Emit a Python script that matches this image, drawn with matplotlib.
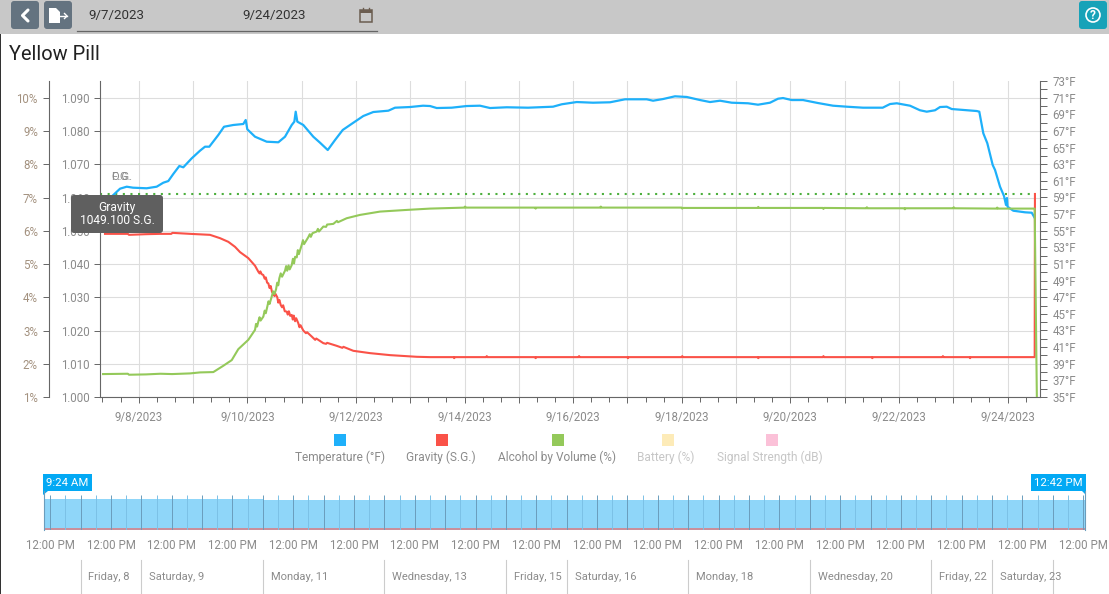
"""plot.py

Fermentation log of the Yellow Pill batch with range navigator
"""
import matplotlib
matplotlib.use('Agg')
from matplotlib import pylab as plt
from matplotlib.patches import Rectangle, FancyBboxPatch, Polygon, Circle

plt.rcParams['font.family'] = ['Roboto', 'DejaVu Sans']

colours = {'temp': '#1eb0fa',
           'gravity': '#fa5248',
           'abv': '#94c95a',
           'battery': '#fdebb8',
           'signal': '#fbc1d8',
           'og': '#4caf3d'}
GREY = '#8b8b8b'
AXIS = '#666666'


#
# Data (x in days of September 2023)
#
temp_day = [7.532, 7.656, 7.779, 7.895, 8.147, 8.331, 8.453, 8.545, 8.637, 8.748, 8.821,
            8.976, 9.129, 9.221, 9.300, 9.405, 9.466, 9.571, 9.742, 9.926, 9.970, 10.000,
            10.142, 10.357, 10.571, 10.694, 10.818, 10.866, 10.891, 10.921, 11.031, 11.215,
            11.339, 11.481, 11.615, 11.757, 11.952, 12.136, 12.320, 12.597, 12.720, 12.996,
            13.236, 13.365, 13.488, 13.764, 14.040, 14.285, 14.470, 14.777, 15.170, 15.630,
            15.790, 16.066, 16.366, 16.680, 16.956, 17.355, 17.472, 17.655, 17.876, 18.092,
            18.337, 18.521, 18.705, 18.921, 19.221, 19.405, 19.626, 19.774, 19.866, 20.026,
            20.234, 20.510, 20.786, 21.039, 21.339, 21.701, 21.836, 21.960, 22.204, 22.388,
            22.512, 22.665, 22.757, 22.880, 22.972, 23.433, 23.480, 23.554, 23.628, 23.727,
            23.770, 23.862, 23.935, 23.972, 23.990, 24.000, 24.107, 24.323, 24.446, 24.494]
temp_f = [59.29, 60.05, 60.29, 60.17, 60.10, 60.29, 60.77, 60.97, 61.82, 62.78, 62.62,
          63.70, 64.62, 65.10, 65.10, 65.99, 66.51, 67.50, 67.71, 67.83, 68.31, 67.19,
          66.30, 65.70, 65.63, 66.30, 67.71, 68.11, 69.31, 68.11, 67.71, 66.30,
          65.58, 64.70, 65.90, 67.11, 67.98, 68.79, 69.27, 69.43, 69.79, 69.87,
          70.03, 69.99, 69.75, 69.79, 69.99, 70.03, 69.75, 69.84, 69.79, 69.91,
          70.20, 70.47, 70.39, 70.44, 70.80, 70.80, 70.63, 70.83, 71.16, 71.08,
          70.71, 70.47, 70.63, 70.39, 70.32, 70.15, 70.39, 70.87, 70.95, 70.71,
          70.71, 70.35, 70.03, 69.91, 69.79, 69.79, 70.23, 70.32, 70.03, 69.48,
          69.31, 69.48, 69.87, 69.91, 69.63, 69.39, 69.31, 66.71, 65.51, 62.90,
          62.30, 60.29, 59.17, 58.09, 58.93, 57.88, 57.40, 57.21, 57.16, 56.61]

gravity_day = [7.379, 7.80, 7.82, 8.134, 8.40, 8.60, 8.62, 8.945, 9.313, 9.497, 9.650, 9.773, 9.866,
               10.018, 10.142, 10.203, 10.225, 10.240, 10.262, 10.295, 10.320, 10.340, 10.365,
               10.387, 10.410, 10.430, 10.455, 10.479, 10.500, 10.520, 10.552, 10.570, 10.590,
               10.615, 10.640, 10.660, 10.690, 10.726, 10.745, 10.765, 10.790, 10.818, 10.838,
               10.855, 10.880, 10.900, 10.939, 10.960, 10.980, 11.031, 11.080, 11.100, 11.186,
               11.250, 11.270, 11.400, 11.450, 11.470, 11.646, 11.750, 11.770, 11.952, 12.260,
               12.628, 13.120, 13.365, 13.800, 13.810, 13.820, 14.400, 14.410, 14.420, 15.300,
               15.310, 15.320, 16.100, 16.110, 16.120, 17.000, 17.010, 17.020, 18.000, 18.010,
               18.020, 19.400, 19.410, 19.420, 20.600, 20.610, 20.620, 21.500, 21.510, 21.520,
               22.800, 22.810, 22.820, 23.300, 23.310, 23.320, 24.470, 24.500, 24.505]
gravity_sg = [1.0491, 1.0491, 1.0488, 1.0490, 1.0491, 1.0491, 1.0494, 1.0491, 1.0488, 1.0478, 1.0467, 1.0452, 1.0436,
              1.0418, 1.0395, 1.0377, 1.0372, 1.0378, 1.0370, 1.0367, 1.0356, 1.0360, 1.0344,
              1.0342, 1.0328, 1.0334, 1.0316, 1.0312, 1.0304, 1.0310, 1.0300, 1.0284, 1.0292,
              1.0277, 1.0270, 1.0276, 1.0258, 1.0257, 1.0248, 1.0258, 1.0244, 1.0247, 1.0233,
              1.0245, 1.0228, 1.0237, 1.0222, 1.0210, 1.0216, 1.0200, 1.0192, 1.0195, 1.0182,
              1.0172, 1.0176, 1.0162, 1.0160, 1.0163, 1.0154, 1.0148, 1.0151, 1.0139, 1.0132,
              1.0126, 1.0121, 1.0120, 1.0120, 1.0117, 1.0120, 1.0120, 1.0123, 1.0120, 1.0120,
              1.0117, 1.0120, 1.0120, 1.0123, 1.0120, 1.0120, 1.0117, 1.0120, 1.0120, 1.0123,
              1.0120, 1.0120, 1.0117, 1.0120, 1.0120, 1.0123, 1.0120, 1.0120, 1.0117, 1.0120,
              1.0120, 1.0123, 1.0120, 1.0120, 1.0117, 1.0120, 1.0120, 1.0120, 1.0611]

abv_day = [7.343, 7.80, 7.82, 8.134, 8.40, 8.613, 8.945, 9.129, 9.374, 9.558, 9.713, 9.834,
           10.018, 10.142, 10.160, 10.180, 10.203, 10.225, 10.245, 10.295, 10.320, 10.340,
           10.368, 10.390, 10.410, 10.449, 10.475, 10.500, 10.529, 10.550, 10.570, 10.589,
           10.615, 10.640, 10.694, 10.715, 10.735, 10.760, 10.780, 10.818, 10.840, 10.860,
           10.880, 10.910, 10.930, 10.950, 11.002, 11.025, 11.045, 11.123, 11.150, 11.170,
           11.200, 11.278, 11.300, 11.320, 11.400, 11.450, 11.470, 11.584, 11.650, 11.670,
           11.830, 12.075, 12.444, 12.935, 13.365, 14.000, 14.010, 14.020, 14.650, 15.300,
           15.310, 15.320, 16.500, 16.510, 16.520, 18.000, 18.010, 18.020, 19.400, 19.410,
           19.420, 20.600, 20.610, 20.620, 21.400, 21.410, 21.420, 22.100, 22.110, 22.120,
           23.000, 23.010, 23.020, 23.800, 23.810, 23.820, 24.470, 24.500, 24.540]
abv_pct = [1.69, 1.70, 1.67, 1.68, 1.70, 1.69, 1.71, 1.74, 1.75, 1.94, 2.11, 2.44,
           2.72, 3.02, 3.20, 3.12, 3.27, 3.40, 3.30, 3.42, 3.60, 3.52,
           3.72, 3.88, 3.80, 4.02, 4.18, 4.10, 4.24, 4.44, 4.36, 4.57,
           4.72, 4.62, 4.80, 4.94, 4.80, 4.96, 4.84, 4.97, 5.16, 5.02,
           5.22, 5.20, 5.42, 5.30, 5.58, 5.72, 5.60, 5.81, 5.90, 5.82,
           5.93, 5.98, 6.06, 5.98, 6.13, 6.12, 6.19, 6.21, 6.30, 6.26,
           6.38, 6.48, 6.58, 6.63, 6.67, 6.70, 6.73, 6.70, 6.70, 6.70,
           6.67, 6.70, 6.70, 6.73, 6.70, 6.70, 6.67, 6.69, 6.69, 6.72,
           6.69, 6.69, 6.66, 6.69, 6.68, 6.71, 6.68, 6.68, 6.65, 6.68,
           6.68, 6.71, 6.68, 6.67, 6.70, 6.67, 6.67, 6.67, 1.00]

og_day = [7.287, 24.50]
og_sg = [1.0611, 1.0611]

gravity_ticks = [1.000, 1.010, 1.020, 1.030, 1.040, 1.050, 1.060, 1.070, 1.080, 1.090]
abv_ticks = [1, 2, 3, 4, 5, 6, 7, 8, 9, 10]
temp_label_ticks = [35, 37, 39, 41, 43, 45, 47, 49, 51, 53, 55, 57, 59, 61, 63, 65, 67, 69, 71, 73]
temp_all_ticks = list(range(35, 74))
date_days = list(range(8, 25))
date_labels = ['9/8/2023', '', '9/10/2023', '', '9/12/2023', '', '9/14/2023', '', '9/16/2023', '',
               '9/18/2023', '', '9/20/2023', '', '9/22/2023', '', '9/24/2023']

nav_day = [7.39, 11.0, 11.0, 24.53]
nav_level = [0.795, 0.795, 0.77, 0.77]
nav_noon = [7.5 + i for i in range(18)]
nav_midnight = [8.0 + i for i in range(17)]
nav_quarter = [7.75 + 0.5 * i for i in range(34)]
nav_sep_day = [8, 9, 11, 13, 15, 16, 18, 20, 22, 23, 24]
nav_sep_labels = ['Friday, 8', 'Saturday, 9', 'Monday, 11', 'Wednesday, 13', 'Friday, 15', 'Saturday, 16',
                  'Monday, 18', 'Wednesday, 20', 'Friday, 22', 'Saturday, 23', '']

legend_names = ['Temperature (°F)', 'Gravity (S.G.)', 'Alcohol by Volume (%)', 'Battery (%)', 'Signal Strength (dB)']
legend_keys = ['temp', 'gravity', 'abv', 'battery', 'signal']


W, H = 1109., 594.
fig = plt.figure(figsize=(11.09, 5.94), dpi=100)


def px_axes(left, top, right, bottom):
    return [left / W, 1 - bottom / H, (right - left) / W, (bottom - top) / H]


#
# Main chart
#
ax = fig.add_axes(px_axes(100, 81, 1040, 397))
ax.set_xlim(7.287, 24.598)
ax.set_ylim(1.000, 1.0951)
ax.set_yticks(gravity_ticks)
ax.set_yticklabels(['%.3f' % g for g in gravity_ticks])
ax.set_xticks(date_days)
ax.set_xticklabels(date_labels)
ax.set_xticks([7.333 + i / 3. for i in range(52) if i % 3 != 2], minor=True)
ax.grid(True, color='#dddddd', lw=0.8)
ax.set_axisbelow(True)
ax.tick_params(axis='x', which='major', length=6 * .72, width=0.7, color=AXIS, labelcolor=GREY, labelsize=8.3, pad=6)
ax.tick_params(axis='x', which='minor', length=4.5 * .72, width=0.7, color=AXIS)
ax.tick_params(axis='y', length=6 * .72, width=0.7, color=AXIS, labelcolor=GREY, labelsize=8.3, pad=3)
ax.spines['top'].set_visible(False)
ax.spines['right'].set_visible(False)
for s in ['left', 'bottom']:
    ax.spines[s].set_color(AXIS)
    ax.spines[s].set_linewidth(0.8)

ax_abv = ax.twinx()
ax_abv.set_ylim(1.0, 10.51)
ax_abv.set_yticks(abv_ticks)
ax_abv.set_yticklabels(['%d%%' % a for a in abv_ticks])
ax_abv.yaxis.set_ticks_position('left')
ax_abv.spines['left'].set_position(('outward', 36.4))
ax_abv.spines['left'].set_color(AXIS)
ax_abv.spines['left'].set_linewidth(0.8)
ax_abv.tick_params(axis='y', length=6 * .72, width=0.7, color=AXIS, labelcolor='#a3917f', labelsize=8.3, pad=4)
for s in ['top', 'right', 'bottom']:
    ax_abv.spines[s].set_visible(False)

ax_temp = ax.twinx()
ax_temp.set_ylim(35, 73)
ax_temp.set_yticks(temp_all_ticks)
ax_temp.set_yticklabels(['%d°F' % t if t in temp_label_ticks else '' for t in temp_all_ticks])
ax_temp.spines['right'].set_color(AXIS)
ax_temp.spines['right'].set_linewidth(0.8)
ax_temp.tick_params(axis='y', length=7 * .72, width=0.7, color=AXIS, labelcolor=GREY, labelsize=8.3, pad=4)
for s in ['top', 'left', 'bottom']:
    ax_temp.spines[s].set_visible(False)

ax_temp.plot(temp_day, temp_f, '-', color=colours['temp'], lw=1.6, solid_joinstyle='round')
ax.plot(og_day, og_sg, color=colours['og'], lw=1.5, ls=(0, (1, 2.65)))
ax_red = ax.twinx()
ax_red.set_ylim(ax.get_ylim())
ax_red.axis('off')
ax_red.plot(gravity_day, gravity_sg, '-', color=colours['gravity'], lw=1.5)
ax_abv.set_zorder(ax_red.get_zorder() + 1)
ax_abv.plot(abv_day, abv_pct, '-', color=colours['abv'], lw=1.5)


#
# Range navigator
#
nav = fig.add_axes(px_axes(43.5, 491, 1085, 530))
nav.set_xlim(7.39, 24.53)
nav.set_ylim(0, 1)
nav.fill_between(nav_day, 0, nav_level, color='#8fd6f9', lw=0)
nav.axhspan(0, 0.06, color='#c98f9b', lw=0)
nav.vlines(nav_quarter, 0, 0.897, color='#7cc1e6', lw=0.7)
nav.vlines(nav_noon + nav_midnight, 0, 0.897, color='#6a9dbd', lw=0.7)
nav.set_xticks(nav_noon)
nav.set_xticklabels(['12:00 PM'] * len(nav_noon))
nav.set_yticks([])
nav.tick_params(axis='x', length=0, labelcolor=GREY, labelsize=8.3, pad=6.5)
for s in nav.spines.values():
    s.set_visible(False)
nav.patch.set_alpha(0)
for d in nav_sep_day:
    nav.plot([d, d], [-0.769, -1.641], color='#cccccc', lw=0.8, clip_on=False,
             transform=nav.get_xaxis_transform())
for d, name in zip(nav_sep_day, nav_sep_labels):
    nav.text(d + 0.13, -1.205, name, color=GREY, fontsize=8.0, va='center', ha='left',
             transform=nav.get_xaxis_transform())


#
# Page chrome, in pixels
#
ui = fig.add_axes([0, 0, 1, 1], zorder=20)
ui.set_xlim(0, W)
ui.set_ylim(H, 0)
ui.axis('off')
ui.patch.set_alpha(0)

ui.add_patch(Rectangle((0, 0), W, 33.5, color='#c8c8c8', lw=0))
ui.add_patch(Rectangle((0, 33.5), 1, H, color='#333333', lw=0))
ui.plot([77, 377], [30.5, 30.5], color='#666666', lw=0.9)
for x0 in [11, 44]:
    ui.add_patch(FancyBboxPatch((x0 + 2, 3), 24, 24, boxstyle='round,pad=2,rounding_size=3',
                                color='#647380', lw=0))
ui.plot([28, 22.5, 28], [10, 15.5, 21], color='white', lw=2.2, solid_capstyle='round')
ui.add_patch(Polygon([(49, 8), (56, 8), (60, 12), (60, 23), (49, 23)], color='white', lw=0))
ui.plot([58, 67], [16, 16], color='white', lw=1)
ui.plot([64.5, 67, 64.5], [13.5, 16, 18.5], color='white', lw=1)
ui.text(88, 15.5, '9/7/2023', fontsize=9.6, color='#333333', va='center')
ui.text(242, 15.5, '9/24/2023', fontsize=9.6, color='#333333', va='center')
ui.add_patch(Rectangle((359.5, 9.5), 12, 12, fill=False, ec='#6b5d50', lw=1.1))
ui.add_patch(Rectangle((359.5, 9.5), 12, 3, color='#6b5d50', lw=0))
ui.plot([362.5, 362.5], [7.5, 10], color='#6b5d50', lw=1)
ui.plot([368.5, 368.5], [7.5, 10], color='#6b5d50', lw=1)
ui.add_patch(FancyBboxPatch((1081, 3), 24, 24, boxstyle='round,pad=2,rounding_size=3',
                            color='#17a2b8', lw=0))
ui.add_patch(Circle((1093, 15), 7, fill=False, ec='white', lw=1.2))
ui.text(1093, 15.3, '?', color='white', fontsize=8.5, fontweight='bold', ha='center', va='center')

ui.text(9, 54.5, 'Yellow Pill', fontsize=14.4, color='#212121', va='center')

# series labels at the OG line
ui.text(111.5, 177, 'O.G.', fontsize=8, color=GREY, va='center')
ui.text(111.5, 177, 'F.G.', fontsize=8, color=GREY, va='center')

# tooltip
ui.add_patch(FancyBboxPatch((74, 198), 86, 32, boxstyle='round,pad=3,rounding_size=3',
                            color='#5f5f5f', lw=0))
ui.text(117, 208, 'Gravity', color='white', fontsize=8.64, ha='center', va='center')
ui.text(117, 220, '1049.100 S.G.', color='white', fontsize=8.64, ha='center', va='center')

# legend
for cx, tx, key, name in zip([340, 442, 557.5, 668, 772], [340, 441, 556.5, 666, 770], legend_keys, legend_names):
    ui.add_patch(Rectangle((cx - 6, 434), 12, 12, color=colours[key], lw=0))
    col = GREY if key in ('temp', 'gravity', 'abv') else '#c6c6c6'
    ui.text(tx, 457, name, color=col, fontsize=8.6, ha='center', va='center')

# navigator handles
ui.add_patch(Rectangle((43.3, 474), 49, 17, color='#03a9f4', lw=0))
ui.add_patch(Polygon([(43.3, 495), (43.3, 491), (47.5, 491)], color='#03a9f4', lw=0))
ui.text(67.5, 482.5, '9:24 AM', color='white', fontsize=8.2, ha='center', va='center')
ui.add_patch(Rectangle((1031, 474), 55, 17, color='#03a9f4', lw=0))
ui.add_patch(Polygon([(1086, 495), (1086, 491), (1082, 491)], color='#03a9f4', lw=0))
ui.text(1058.5, 482.5, '12:42 PM', color='white', fontsize=8.2, ha='center', va='center')
ui.plot([43.6, 43.6], [491, 530], color='#6a9dbd', lw=0.8)
ui.plot([1085, 1085], [491, 530], color='#6a9dbd', lw=0.8)

plt.savefig('out.png', dpi=100)
